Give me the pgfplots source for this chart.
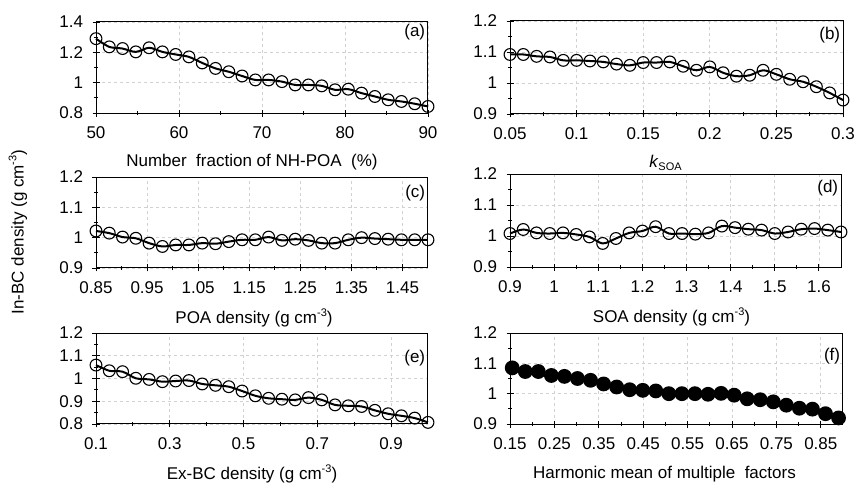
\documentclass[border=0pt]{standalone}
\usepackage{pgfplots}
\pgfplotsset{compat=1.18}
\usepackage{fontspec}
\setmainfont{Liberation Sans}
\newcommand{\fs}{\fontsize{17}{20}\selectfont}
\newcommand{\sps}[1]{\raisebox{0.8ex}{\fontsize{11}{12}\selectfont #1}}
\newcommand{\sbs}[1]{\raisebox{-0.35ex}{\fontsize{11}{12}\selectfont #1}}
\tikzset{lab/.style={font=\fs, anchor=north east, inner sep=1pt}}
\pgfplotsset{
 panel/.style={
  scale only axis, width=332pt, height=91pt, anchor=north west,
  axis line style={black, line width=1pt},
  tick style={black, line width=0.9pt},
  tick align=center, major tick length=7pt, minor tick length=4pt,
  tick pos=left,
  minor x tick num=1, minor y tick num=1,
  grid=major, major grid style={dashed, black!18, line width=0.7pt},
  scaled ticks=false,
  /pgf/number format/fixed,
  /pgf/number format/assume math mode=true,
  ticklabel style={font=\fs},
  xticklabel style={yshift=-7pt},
  yticklabel style={xshift=-6pt},
  every axis x label/.style={at={(axis description cs:0.5,0)}, anchor=center, yshift=-50pt, font=\fs},
  clip=false,
 },
 ser/.style={black, line width=2pt, smooth, tension=0.5, mark=o, mark size=5.9pt,
   mark options={line width=1.1pt, fill=none, solid}},
 serf/.style={black, line width=2pt, smooth, tension=0.5, mark=*, mark size=6.4pt,
   mark options={fill=black, solid}},
}
\begin{document}
\begin{tikzpicture}[x=1pt,y=1pt]
\useasboundingbox (0,0) rectangle (855,-484);
% (a)
\begin{axis}[panel, at={(96pt,-22pt)}, xmin=50, xmax=90, ymin=0.8, ymax=1.4,
  xtick={50,60,70,80,90}, ytick={0.8,1,1.2,1.4},
  xticklabels={50,60,70,80,90}, yticklabels={0.8,1,1.2,1.4},
  xlabel style={xshift=-10pt, yshift=1pt},
  xlabel={Number\ \ fraction of NH-POA\ \ (\%)}]
\addplot[ser] coordinates {(50,1.290)(51.6,1.236)(53.2,1.225)(54.8,1.203)(56.4,1.230)(58,1.203)(59.6,1.186)(61.2,1.170)(62.8,1.130)(64.4,1.094)(66,1.072)(67.6,1.044)(69.2,1.018)(70.8,1.018)(72.4,1.007)(74,0.985)(75.6,0.985)(77.2,0.979)(78.8,0.953)(80.4,0.957)(82,0.931)(83.6,0.909)(85.2,0.887)(86.8,0.876)(88.4,0.861)(90,0.843)};
\node[lab] at (rel axis cs:0.995,0.99) {(a)};
\end{axis}
% (b)
\begin{axis}[panel, at={(510pt,-21pt)}, width=333pt, height=93pt, xmin=0.05, xmax=0.3, ymin=0.9, ymax=1.2,
  xtick={0.05,0.1,0.15,0.2,0.25,0.3}, ytick={0.9,1,1.1,1.2},
  xticklabels={0.05,0.1,0.15,0.2,0.25,0.3}, yticklabels={0.9,1,1.1,1.2},
  xlabel style={xshift=-11pt, yshift=1pt},
  xlabel={\textit{k}\sbs{SOA}}]
\addplot[ser] coordinates {(0.05,1.092)(0.06,1.092)(0.07,1.086)(0.08,1.084)(0.09,1.073)(0.10,1.073)(0.11,1.071)(0.12,1.068)(0.13,1.061)(0.14,1.057)(0.15,1.066)(0.16,1.066)(0.17,1.068)(0.18,1.054)(0.19,1.041)(0.20,1.052)(0.21,1.033)(0.22,1.022)(0.23,1.025)(0.24,1.041)(0.25,1.028)(0.26,1.012)(0.27,1.004)(0.28,0.988)(0.29,0.968)(0.30,0.945)};
\node[lab] at (rel axis cs:0.995,0.95) {(b)};
\end{axis}
% (c)
\begin{axis}[panel, at={(96pt,-177pt)}, xmin=0.85, xmax=1.5, ymin=0.9, ymax=1.2,
  xtick={0.85,0.95,1.05,1.15,1.25,1.35,1.45}, ytick={0.9,1,1.1,1.2},
  xticklabels={0.85,0.95,1.05,1.15,1.25,1.35,1.45}, yticklabels={0.9,1,1.1,1.2},
  xlabel style={xshift=-8pt},
  xlabel={POA density (g cm\sps{-3})}]
\addplot[ser] coordinates {(0.85,1.022)(0.876,1.015)(0.902,1.002)(0.928,0.998)(0.954,0.982)(0.98,0.971)(1.006,0.976)(1.032,0.976)(1.058,0.982)(1.084,0.980)(1.11,0.987)(1.136,0.993)(1.162,0.993)(1.188,1.002)(1.214,0.991)(1.24,0.995)(1.266,0.991)(1.292,0.982)(1.318,0.982)(1.344,0.993)(1.37,1.000)(1.396,0.997)(1.422,0.995)(1.448,0.993)(1.474,0.993)(1.5,0.993)};
\node[lab] at (rel axis cs:0.995,0.92) {(c)};
\end{axis}
% (d)
\begin{axis}[panel, at={(510pt,-174pt)}, width=331pt, height=93pt, xmin=0.9, xmax=1.65, ymin=0.9, ymax=1.2,
  xtick={0.9,1,1.1,1.2,1.3,1.4,1.5,1.6}, ytick={0.9,1,1.1,1.2},
  xticklabels={0.9,1,1.1,1.2,1.3,1.4,1.5,1.6}, yticklabels={0.9,1,1.1,1.2},
  xlabel style={xshift=-4pt},
  xlabel={SOA density (g cm\sps{-3})}]
\addplot[ser] coordinates {(0.90,1.008)(0.93,1.021)(0.96,1.010)(0.99,1.008)(1.02,1.010)(1.05,1.005)(1.08,0.997)(1.11,0.976)(1.14,0.992)(1.17,1.010)(1.20,1.016)(1.23,1.030)(1.26,1.008)(1.29,1.008)(1.32,1.006)(1.35,1.010)(1.38,1.032)(1.41,1.027)(1.44,1.022)(1.47,1.019)(1.50,1.008)(1.53,1.013)(1.56,1.022)(1.59,1.024)(1.62,1.019)(1.65,1.013)};
\node[lab] at (rel axis cs:0.995,0.95) {(d)};
\end{axis}
% (e)
\begin{axis}[panel, at={(96pt,-333pt)}, xmin=0.1, xmax=1.0, ymin=0.8, ymax=1.2,
  xtick={0.1,0.3,0.5,0.7,0.9}, ytick={0.8,0.9,1,1.1,1.2},
  xticklabels={0.1,0.3,0.5,0.7,0.9}, yticklabels={0.8,0.9,1,1.1,1.2},
  xlabel style={xshift=-10pt},
  xlabel={Ex-BC density (g cm\sps{-3})}]
\addplot[ser] coordinates {(0.1,1.059)(0.136,1.034)(0.172,1.030)(0.208,1.001)(0.244,0.996)(0.28,0.986)(0.316,0.989)(0.352,0.991)(0.388,0.976)(0.424,0.970)(0.46,0.964)(0.496,0.945)(0.532,0.924)(0.568,0.913)(0.604,0.909)(0.64,0.906)(0.676,0.916)(0.712,0.906)(0.748,0.884)(0.784,0.880)(0.82,0.877)(0.856,0.860)(0.892,0.845)(0.928,0.836)(0.964,0.826)(1.0,0.807)};
\node[lab] at (rel axis cs:0.995,0.82) {(e)};
\end{axis}
% (f)
\begin{axis}[panel, at={(510pt,-333pt)}, width=333pt, xmin=0.15, xmax=0.9, ymin=0.9, ymax=1.2,
  xtick={0.15,0.25,0.35,0.45,0.55,0.65,0.75,0.85}, ytick={0.9,1,1.1,1.2},
  xticklabels={0.15,0.25,0.35,0.45,0.55,0.65,0.75,0.85}, yticklabels={0.9,1,1.1,1.2},
  xlabel style={xshift=-12pt},
  xlabel={Harmonic mean of multiple\ \ factors}]
\addplot[serf] coordinates {(0.155,1.085)(0.1844,1.073)(0.2138,1.073)(0.2432,1.060)(0.2726,1.057)(0.302,1.050)(0.3314,1.044)(0.3608,1.032)(0.3902,1.022)(0.4196,1.013)(0.449,1.011)(0.4784,1.009)(0.5078,1.000)(0.5372,1.000)(0.5666,1.000)(0.596,0.998)(0.6254,1.001)(0.6548,0.995)(0.6842,0.983)(0.7136,0.980)(0.743,0.973)(0.7724,0.962)(0.8018,0.952)(0.8312,0.949)(0.8606,0.934)(0.89,0.920)};
\node[lab] at (rel axis cs:0.995,0.85) {(f)};
\end{axis}
\node[rotate=90, font=\fs] at (18,-232) {In-BC density (g cm\sps{-3})};
\end{tikzpicture}
\end{document}
